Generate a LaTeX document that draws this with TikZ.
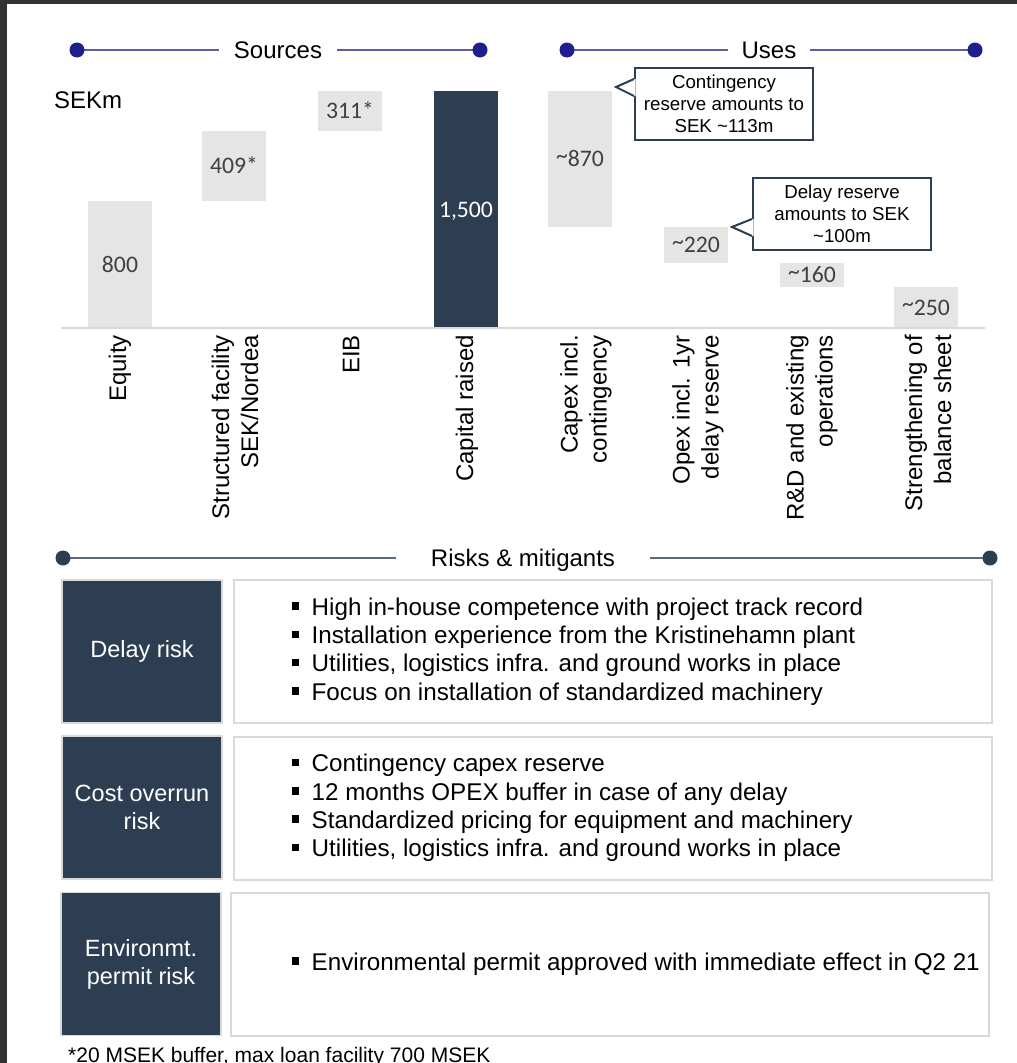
\documentclass[tikz,border=0pt]{standalone}
\usepackage{fontspec}
\setmainfont{Liberation Sans}
\newfontfamily\numfont{Carlito}
\usetikzlibrary{positioning}
\definecolor{navy}{HTML}{2D3E53}
\definecolor{barfill}{HTML}{E5E5E5}
\definecolor{numgray}{HTML}{404040}
\definecolor{rulegray}{HTML}{D9D9D9}
\definecolor{hdrblue}{HTML}{5B5EA6}
\definecolor{dotblue}{HTML}{1E1E8C}
\definecolor{slate}{HTML}{5B6B7F}
\definecolor{framedark}{HTML}{30332F}
\newcommand{\rbul}{\rule[5.5pt]{6.5pt}{7.5pt}\hspace{13pt}}
\newcommand{\approxnum}{\raisebox{3.5pt}{\textasciitilde}}

\begin{document}
\begin{tikzpicture}[x=1pt,y=-1pt,
        hdr/.style={inner ysep=0pt, inner xsep=15pt, text height=17pt, text depth=0pt, font=\fontsize{24}{28}\selectfont},
        hdrline/.style={draw=hdrblue, line width=2pt},
        riskline/.style={draw=slate, line width=2pt},
        srcbar/.style={fill=barfill, minimum width=64pt, inner sep=0pt, text=numgray, text height=15pt, text depth=0pt, font=\numfont\fontsize{23.7}{28}\selectfont},
        totalbar/.style={srcbar, fill=navy, text=white},
        axlabel/.style={rotate=90, anchor=east, align=right, inner sep=0pt, font=\fontsize{24}{29}\selectfont},
        callout/.style={draw=navy, line width=2pt, fill=white, inner sep=0pt, minimum width=178pt, minimum height=72pt, align=center, font=\fontsize{18.7}{22}\selectfont},
        notch/.style={draw=navy, line width=2pt},
        riskname/.style={fill=navy, draw=rulegray, line width=1.5pt, text=white, minimum width=160pt, minimum height=143pt, align=center, inner sep=0pt, font=\fontsize{23.5}{28}\selectfont},
        riskbox/.style={draw=rulegray, line width=2pt, minimum width=758pt, minimum height=143pt, inner sep=0pt},
        risktext/.style={align=left, inner sep=0pt, font=\fontsize{24.2}{28.3}\selectfont}]

        \useasboundingbox (0,0) rectangle (1017,1063);
        \fill[framedark] (0,0) rectangle (1017,1063);
        \fill[white] (7,4) rectangle (1017,1063);

        % section headers
        \coordinate (srcL) at (77,50);
        \coordinate (srcR) at (480,50);
        \node[hdr] (sources) at (278,50) {Sources};
        \draw[hdrline] (srcL) -- (sources.west);
        \draw[hdrline] (sources.east) -- (srcR);
        \fill[dotblue] (srcL) circle (7.5pt);
        \fill[dotblue] (srcR) circle (7.5pt);

        \coordinate (useL) at (567,50);
        \coordinate (useR) at (975,50);
        \node[hdr, inner xsep=13pt] (uses) at (769,50) {Uses};
        \draw[hdrline] (useL) -- (uses.west);
        \draw[hdrline] (uses.east) -- (useR);
        \fill[dotblue] (useL) circle (7.5pt);
        \fill[dotblue] (useR) circle (7.5pt);

        \node[hdr, inner xsep=0pt, anchor=west] (unit) at (54,100) {SEKm};

        % bars
        \node[srcbar, minimum height=127pt] (equity) at (120,264.5) {800};
        \node[srcbar, minimum height=70pt] (facility) at (234,166) {409*};
        \node[srcbar, minimum height=40pt] (eib) at (350,111) {311*};
        \node[totalbar, minimum height=237pt] (raised) at (466,209.5) {1,500};

        \node[srcbar, minimum height=136pt] (capex) at (580,159) {\approxnum870};
        \node[srcbar, minimum height=36pt] (opex) at (696,245) {\approxnum220};
        \node[srcbar, minimum height=24pt] (rnd) at (812,275) {\approxnum160};
        \node[srcbar, minimum height=41pt] (balance) at (926,307.5) {\approxnum250};

        \coordinate (axL) at (61,328);
        \coordinate (axR) at (985,328);
        \draw[rulegray, line width=2pt] (axL) -- (axR);

        % axis labels
        \node[axlabel] (lblEquity) at (120,335) {Equity};
        \node[axlabel] (lblFacility) at (235,335) {Structured facility\\SEK/Nordea};
        \node[axlabel] (lblEib) at (351,335) {EIB};
        \node[axlabel] (lblRaised) at (467,335) {Capital raised};
        \node[axlabel] (lblCapex) at (586,335) {Capex incl.\\contingency};
        \node[axlabel] (lblOpex) at (698,335) {Opex incl. 1yr\\delay reserve};
        \node[axlabel] (lblRnd) at (812,335) {R\&D and existing\\operations};
        \node[axlabel] (lblBalance) at (928,335) {Strengthening of\\balance sheet};

        % callouts
        \node[callout] (contNote) at (724,104) {Contingency\\reserve amounts to\\SEK \textasciitilde113m};
        \fill[white] ([yshift=-12pt]contNote.north west) -- ++(-18,8) -- ++(18,9) -- ++(1.6,0) -- ++(0,-17) -- cycle;
        \draw[notch] ([yshift=-12pt]contNote.north west) -- ++(-18,8) -- ++(18,9);

        \node[callout] (delayNote) at (842,214) {Delay reserve\\amounts to SEK\\\textasciitilde100m};
        \fill[white] ([yshift=-42pt]delayNote.north west) -- ++(-20,8) -- ++(20,9) -- ++(1.6,0) -- ++(0,-17) -- cycle;
        \draw[notch] ([yshift=-42pt]delayNote.north west) -- ++(-20,8) -- ++(20,9);

        % risks and mitigants
        \coordinate (riskL) at (63,558);
        \coordinate (riskR) at (990,558);
        \node[hdr, inner xsep=35pt] (risks) at (523,558) {Risks \& mitigants};
        \draw[riskline] (riskL) -- (risks.west);
        \draw[riskline] (risks.east) -- (riskR);
        \fill[navy] (riskL) circle (7.5pt);
        \fill[navy] (riskR) circle (7.5pt);

        \node[riskname] (delayName) at (142,651.5) {Delay risk};
        \node[riskbox] (delayBox) at (613,651.5) {};
        \node[risktext, right=59pt of delayBox.west] (delayText) {\rbul High in-house competence with project track record\\
            \rbul Installation experience from the Kristinehamn plant\\
            \rbul Utilities, logistics infra. and ground works in place\\
            \rbul Focus on installation of standardized machinery};

        \node[riskname] (costName) at (142,807.5) {Cost overrun\\risk};
        \node[riskbox] (costBox) at (613,808) {};
        \node[risktext, right=59pt of costBox.west] (costText) {\rbul Contingency capex reserve\\
            \rbul 12 months OPEX buffer in case of any delay\\
            \rbul Standardized pricing for equipment and machinery\\
            \rbul Utilities, logistics infra. and ground works in place};

        \node[riskname] (envName) at (141,964) {Environmt.\\permit risk};
        \node[riskbox] (envBox) at (610,964) {};
        \node[risktext, right=62pt of envBox.west] (envText) {\rbul Environmental permit approved with immediate effect in Q2 21};

        \node[anchor=base west, inner sep=0pt, font=\fontsize{21}{25}\selectfont] (footnote) at (68,1062) {*20 MSEK buffer, max loan facility 700 MSEK};
\end{tikzpicture}
\end{document}
